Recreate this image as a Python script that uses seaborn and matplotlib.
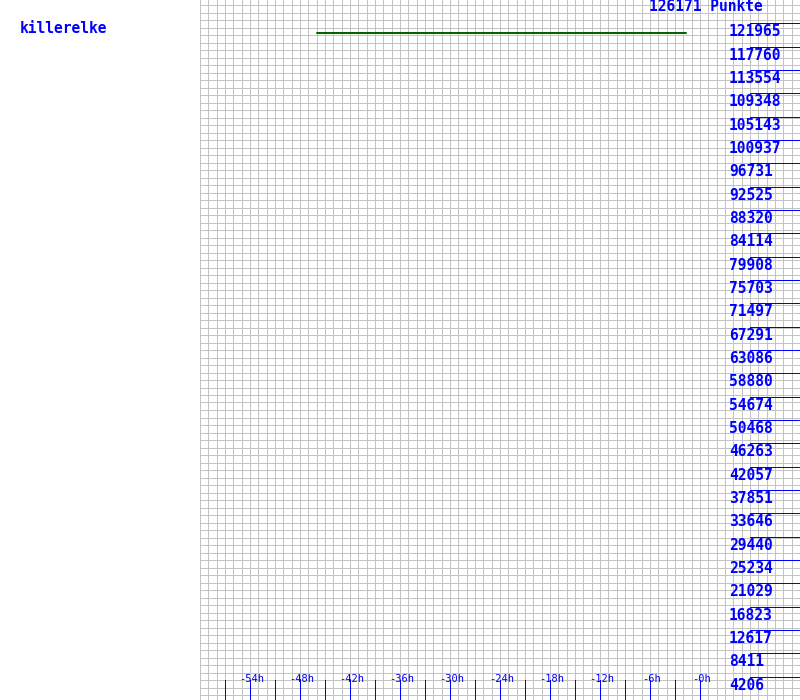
import numpy as np
import matplotlib
matplotlib.use("Agg")
import matplotlib.pyplot as plt
import seaborn as sns
import pandas as pd

# ---- data ----
player = "killerelke"
max_points = 126171
total_label = "126171 Punkte"
ytick_values = [4206, 8411, 12617, 16823, 21029, 25234, 29440, 33646, 37851, 42057,
                46263, 50468, 54674, 58880, 63086, 67291, 71497, 75703, 79908, 84114,
                88320, 92525, 96731, 100937, 105143, 109348, 113554, 117760, 121965]
xtick_hours = [-57, -54, -51, -48, -45, -42, -39, -36, -33, -30, -27, -24, -21,
               -18, -15, -12, -9, -6, -3, 0]
xlabel_hours = [-54, -48, -42, -36, -30, -24, -18, -12, -6, 0]
xlabel_texts = ["-54h", "-48h", "-42h", "-36h", "-30h", "-24h", "-18h", "-12h", "-6h", "-0h"]
series_hours = [-46.0, -1.7]
series_points = [120223, 120223]

# ---- style ----
sns.set_style("white")
plt.rcParams['font.family'] = ['DejaVu Sans Mono', 'DejaVu Sans']
BLUE = "#0000ff"
GRID = "#c4c4c4"
W, H = 800, 700
px = 0.72  # 1 pixel in points at dpi 100

fig = plt.figure(figsize=(8, 7), dpi=100)
ax = fig.add_axes([0.25, 0, 0.75, 1])
ax.set_xlim(-60, 12)
ax.set_ylim(0, max_points)
ax.set_axis_off()

# grid
grid_hours = np.arange(-60, 13, 1)
ax.vlines(grid_hours, 0, 1, transform=ax.get_xaxis_transform(), color=GRID,
          lw=px, zorder=0, antialiased=False)
grid_rows = 1 - (5 + 7.5 * np.arange(0, 93)) / H
ax.hlines(grid_rows, 0, 1, transform=ax.transAxes, color=GRID,
          lw=px, zorder=0, antialiased=False)

# series
df = pd.DataFrame({"h": series_hours, "p": series_points})
sns.lineplot(data=df, x="h", y="p", ax=ax, color="#006400", lw=2 * px, zorder=3)

# y ticks (right side)
ytr = ax.get_yaxis_transform()
ax.hlines(ytick_values, 550 / 600, 1, transform=ytr, color=BLUE, lw=px, zorder=2,
          antialiased=False)
unit = max_points / H
for v in ytick_values:
    ax.text((729 - 200) / 600, v - 13 * unit, str(v), transform=ytr, color=BLUE,
            fontsize=10.5, fontweight="bold", ha="left", va="baseline", zorder=4)

# x ticks (bottom)
xtr = ax.get_xaxis_transform()
ax.vlines(xtick_hours, 0, 20 / H, transform=xtr, color=BLUE, lw=px, zorder=2,
          antialiased=False)
for h, t in zip(xlabel_hours, xlabel_texts):
    ax.text(h + 0.15, 1 - 682 / H, t, transform=xtr, color=BLUE, fontsize=7.5,
            ha="center", va="baseline", zorder=4)

# header texts
fig.text(649 / W, 1 - 11 / H, total_label, color=BLUE, fontsize=10.5,
         fontweight="bold", ha="left", va="baseline")
fig.text(20 / W, 1 - 33 / H, player, color=BLUE, fontsize=10.5,
         fontweight="bold", ha="left", va="baseline")

fig.savefig("out.png", dpi=100)
